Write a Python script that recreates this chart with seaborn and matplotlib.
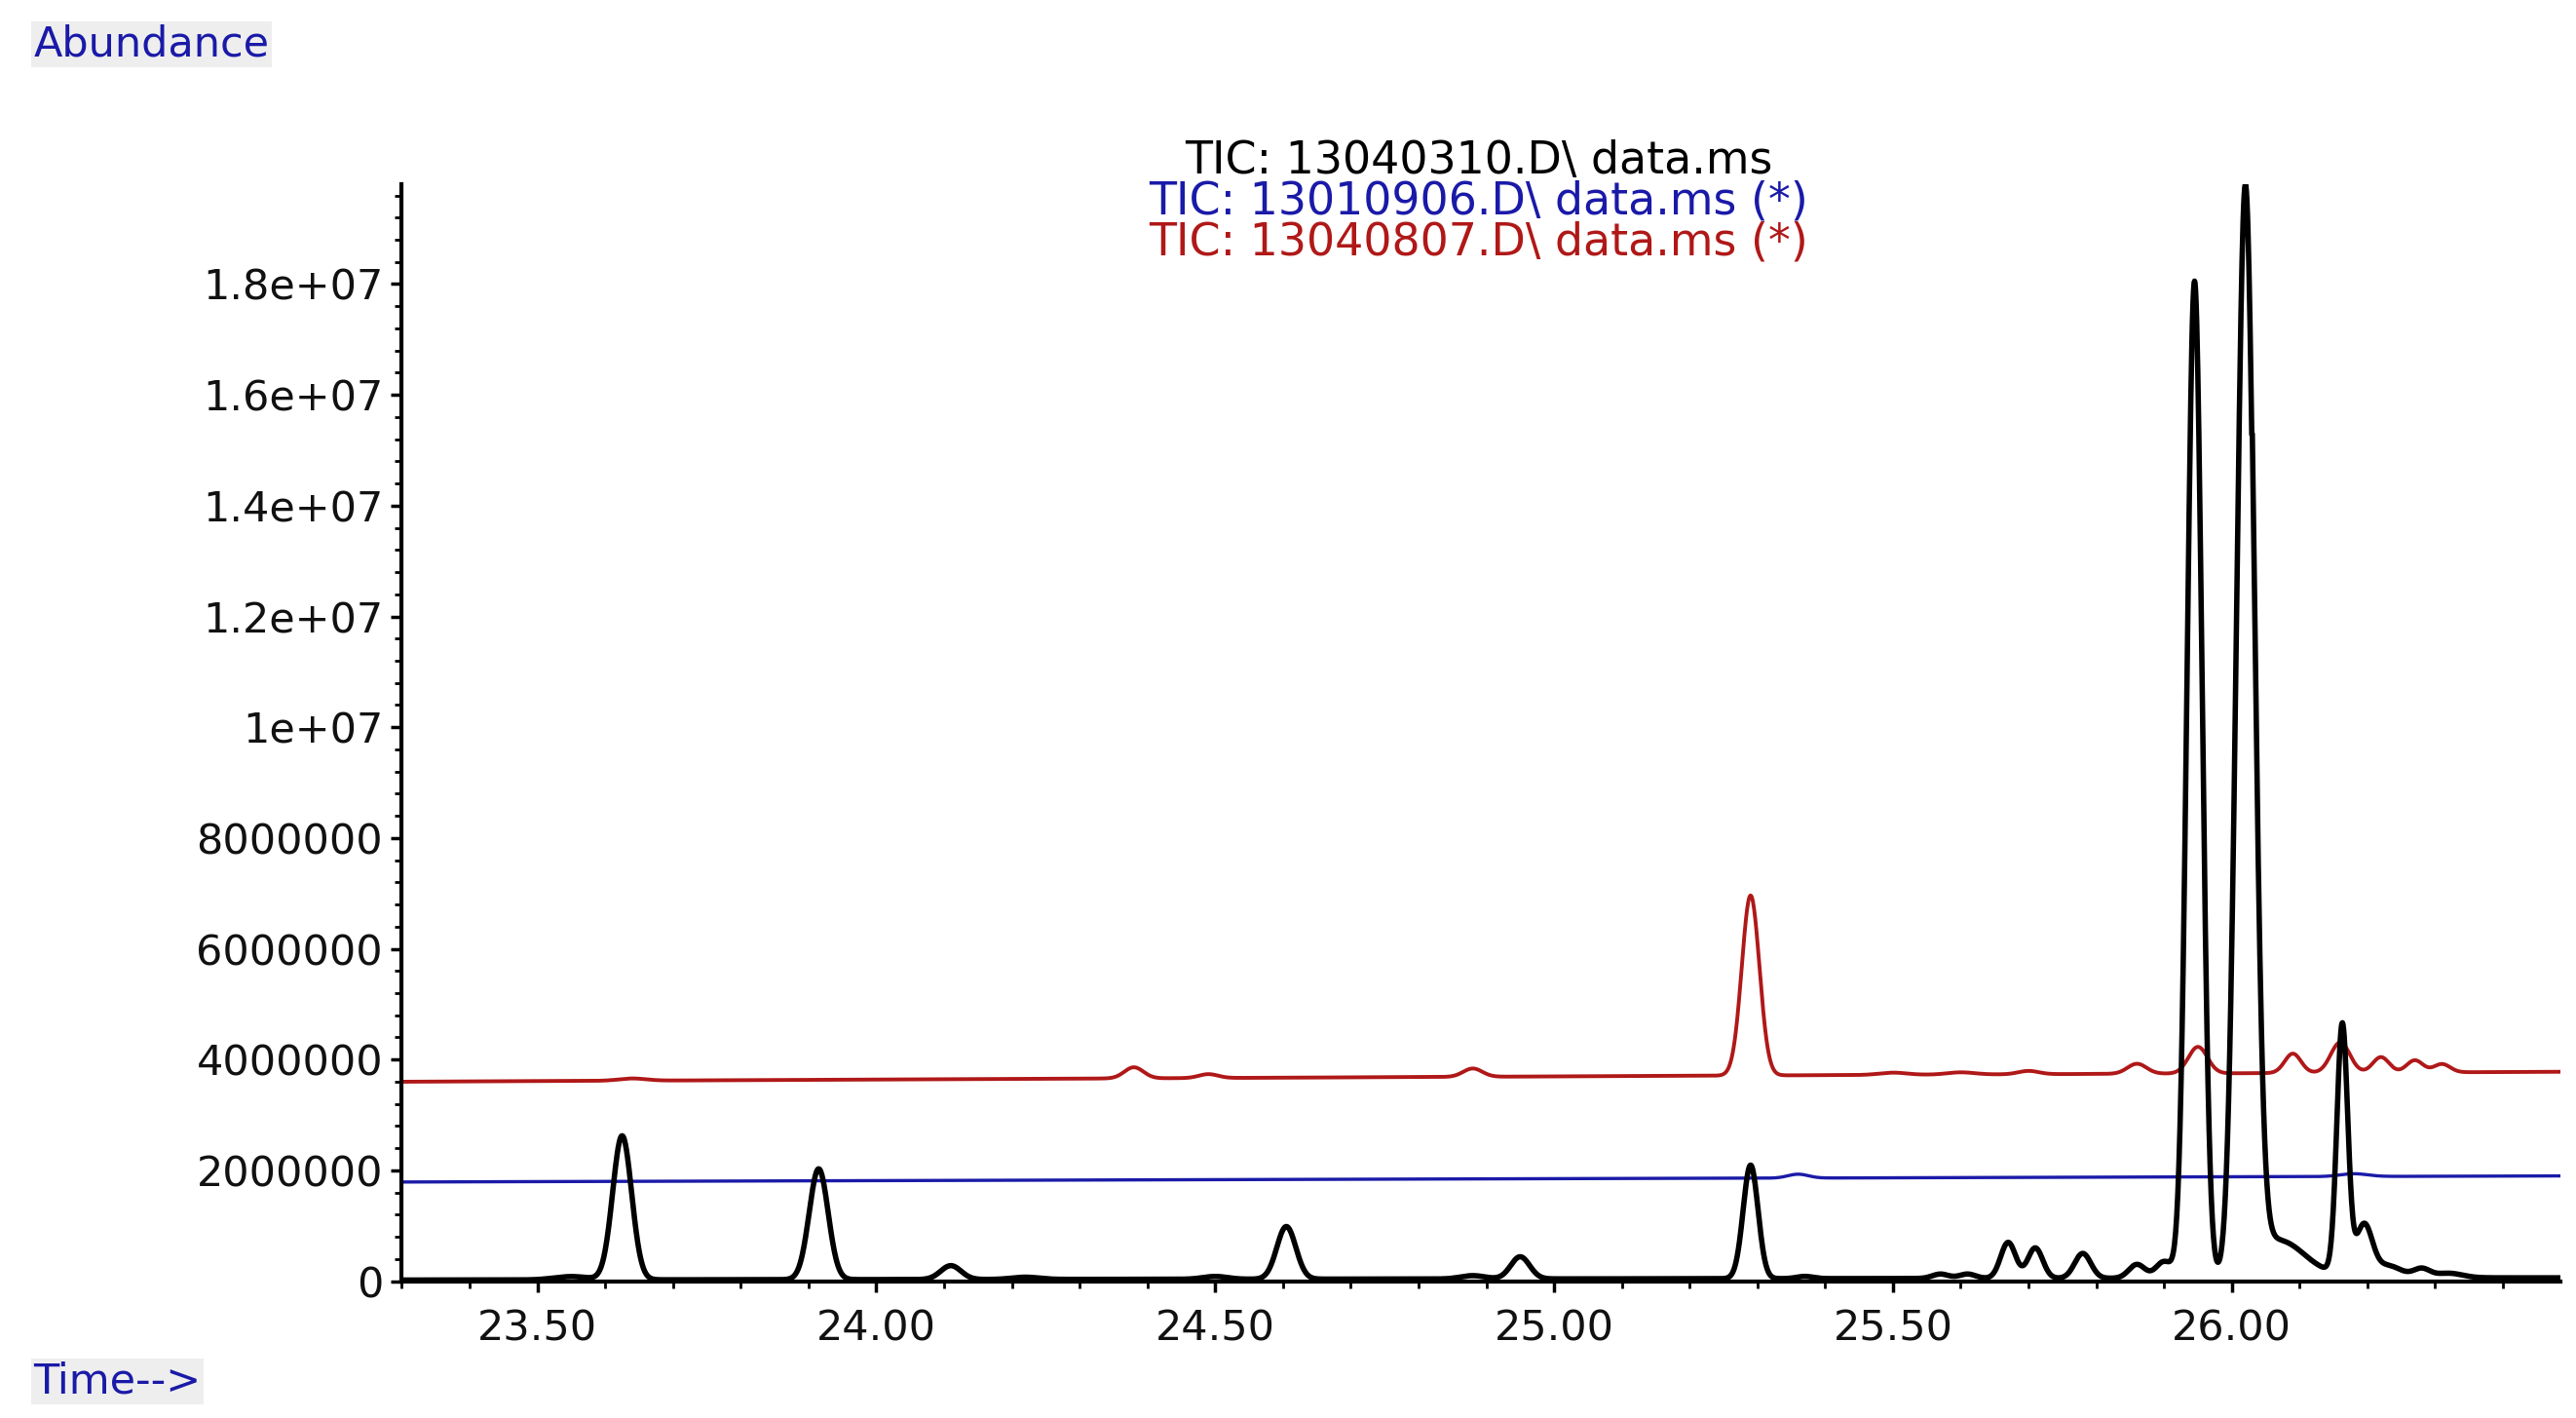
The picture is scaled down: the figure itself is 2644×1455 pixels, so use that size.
import numpy as np
import pandas as pd
import matplotlib
matplotlib.use("Agg")
import matplotlib.pyplot as plt
import seaborn as sns
from matplotlib.ticker import MultipleLocator, FixedLocator

sns.set_style("white")
plt.rcParams['font.family'] = ['DejaVu Sans']

# Peak tables: retention time (min), height (abundance), sigma (min)
black_rt = [23.55, 23.625, 23.915, 24.11, 24.22, 24.50, 24.605, 24.88, 24.95, 25.29, 25.37, 25.57, 25.61,
            25.67, 25.71, 25.78, 25.86, 25.90, 25.945, 26.02, 26.08, 26.163, 26.195, 26.23, 26.28, 26.32]
black_h = [60000, 2600000, 2000000, 250000, 40000, 50000, 950000, 60000, 400000, 2050000, 40000, 80000, 80000,
           650000, 550000, 450000, 250000, 300000, 18000000, 19700000, 350000, 4500000, 900000, 200000, 150000, 80000]
black_w = [0.025, 0.014, 0.014, 0.015, 0.02, 0.018, 0.014, 0.018, 0.014, 0.011, 0.012, 0.012, 0.012,
           0.011, 0.011, 0.012, 0.012, 0.012, 0.011, 0.013, 0.03, 0.008, 0.012, 0.02, 0.012, 0.02]

red_base = [3600000, 3780000]
red_rt = [23.64, 24.38, 24.49, 24.88, 25.29, 25.50, 25.60, 25.70, 25.86, 25.95, 26.09, 26.16, 26.22, 26.27, 26.31]
red_h = [40000, 200000, 70000, 150000, 3250000, 40000, 40000, 60000, 180000, 480000, 350000, 550000, 280000, 220000, 150000]
red_w = [0.02, 0.014, 0.014, 0.014, 0.013, 0.02, 0.02, 0.015, 0.014, 0.014, 0.012, 0.014, 0.012, 0.012, 0.012]

blue_base = [1790000, 1900000]
blue_rt = [25.36, 26.18]
blue_h = [70000, 50000]
blue_w = [0.015, 0.02]

titles = ["TIC: 13040310.D\\ data.ms", "TIC: 13010906.D\\ data.ms (*)", "TIC: 13040807.D\\ data.ms (*)"]
colors = ["#000000", "#1a1aa8", "#b01818"]

t = np.linspace(23.30, 26.485, 4000)

def trace(base, rts, hs, ws):
    y = np.interp(t, [t[0], t[-1]], base)
    for c, h, w in zip(rts, hs, ws):
        y = y + h * np.exp(-0.5 * ((t - c) / w) ** 2)
    return y

black = trace([20000, 60000], black_rt, black_h, black_w)
black = black + np.where(t > 26.03, 700000 * np.exp(-(t - 26.03) / 0.06), 0)
red = trace(red_base, red_rt, red_h, red_w)
blue = trace(blue_base, blue_rt, blue_h, blue_w)

df = pd.concat([
    pd.DataFrame({"t": t, "y": red, "s": "red"}),
    pd.DataFrame({"t": t, "y": blue, "s": "blue"}),
    pd.DataFrame({"t": t, "y": black, "s": "black"}),
])

fig = plt.figure(figsize=(26.44, 14.55), dpi=100)
ax = fig.add_axes([0.156, 0.0965, 0.838, 0.7735])
sns.lineplot(data=df[df.s == "red"], x="t", y="y", color=colors[2], lw=2.8, ax=ax)
sns.lineplot(data=df[df.s == "blue"], x="t", y="y", color=colors[1], lw=2.4, ax=ax)
sns.lineplot(data=df[df.s == "black"], x="t", y="y", color=colors[0], lw=4, ax=ax)

ax.set_xlim(23.30, 26.485)
ax.set_ylim(0, 1.98e7)
ax.set_xlabel("")
ax.set_ylabel("")
for s in ["top", "right"]:
    ax.spines[s].set_visible(False)
for s in ["left", "bottom"]:
    ax.spines[s].set_linewidth(3)
    ax.spines[s].set_color("black")

yt = [0, 2e6, 4e6, 6e6, 8e6, 1e7, 1.2e7, 1.4e7, 1.6e7, 1.8e7]
ylabels = ["0", "2000000", "4000000", "6000000", "8000000", "1e+07", "1.2e+07", "1.4e+07", "1.6e+07", "1.8e+07"]
ax.yaxis.set_major_locator(FixedLocator(yt))
ax.set_yticklabels(ylabels)
ax.yaxis.set_minor_locator(MultipleLocator(4e5))
xt = [23.5, 24.0, 24.5, 25.0, 25.5, 26.0]
ax.xaxis.set_major_locator(FixedLocator(xt))
ax.set_xticklabels(["23.50", "24.00", "24.50", "25.00", "25.50", "26.00"])
ax.xaxis.set_minor_locator(MultipleLocator(0.1))
ax.tick_params(axis="both", which="both", bottom=True, left=True, direction="out", color="black")
ax.tick_params(axis="both", which="major", labelsize=31, length=8, width=2.5, labelcolor="#111111")
ax.tick_params(axis="both", which="minor", length=5, width=2)
ax.tick_params(axis="y", pad=6)
ax.tick_params(axis="x", pad=12)

for i, (txt, c) in enumerate(zip(titles, colors)):
    fig.text(0.574, 0.886 - i * 0.0285, txt, color=c, ha="center", va="center", fontsize=33)

fig.text(0.013, 0.969, "Abundance", color="#1a1aa8", ha="left", va="center", fontsize=31,
         bbox=dict(facecolor="#eeeeee", edgecolor="none", pad=2))
fig.text(0.013, 0.026, "Time-->", color="#1a1aa8", ha="left", va="center", fontsize=31,
         bbox=dict(facecolor="#eeeeee", edgecolor="none", pad=2))

fig.savefig("out.png", dpi=100)
